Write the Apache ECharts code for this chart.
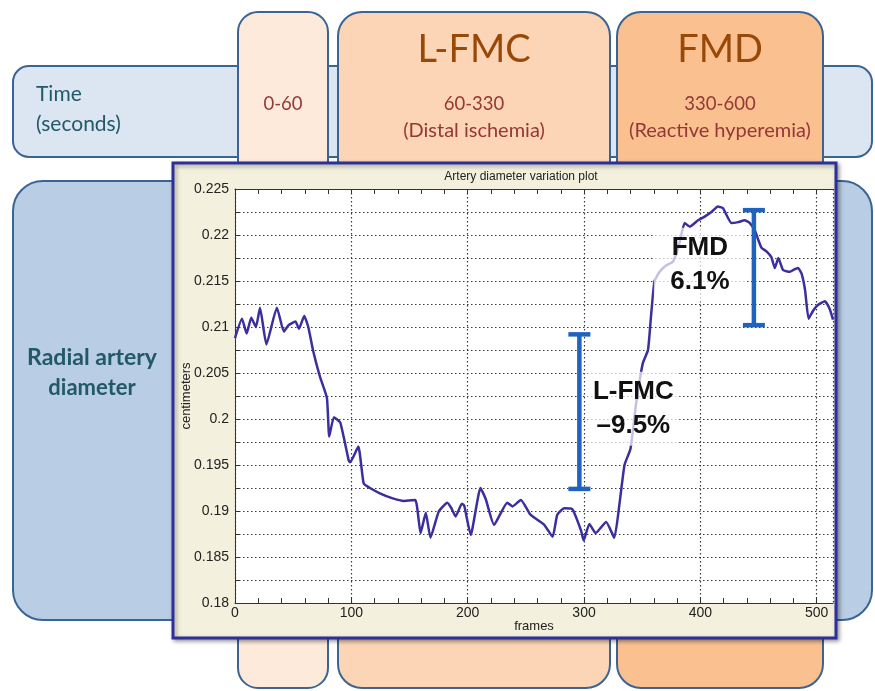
<!DOCTYPE html>
<html><head><meta charset="utf-8">
<script src="https://cdn.jsdelivr.net/npm/echarts/dist/echarts.min.js"></script>
<style>html,body{margin:0;padding:0;background:#fff}#c{width:875px;height:691px}</style>
</head><body><div id="c"></div>
<script>
// ---- data ----
const frames = [0, 6, 10, 14, 18, 21.5, 27, 36, 42, 46, 52, 55, 59.5, 63, 67, 73, 79, 81, 85, 90.5, 97.7, 99, 106, 110.6, 116, 125, 135, 145, 155, 159.5, 164, 168, 175, 182.5, 186, 189.6, 195, 197, 202.6, 211, 215.5, 222.7, 234, 238.5, 245.7, 254, 265.8, 273, 277, 283, 290, 297.4, 299.7, 304.6, 310, 319, 326, 330.5, 334.8, 340, 344.8, 350.6, 355, 357.8, 360.6, 365, 370.7, 376.5, 382, 386.5, 391, 398, 403.7, 409.5, 415, 419.5, 426.7, 432.5, 438, 442.5, 446.8, 449.7, 452.6, 457, 461, 464, 467, 471, 477, 480, 484, 487, 490, 493, 497, 501, 507, 511, 514];
const diameter = [0.2088, 0.2109, 0.2093, 0.2110, 0.2100, 0.2121, 0.2081, 0.2121, 0.2095, 0.2102, 0.2106, 0.2098, 0.2112, 0.2100, 0.2075, 0.2046, 0.2023, 0.1981, 0.2002, 0.1996, 0.1955, 0.1953, 0.1970, 0.1930, 0.1925, 0.1919, 0.1914, 0.1911, 0.1912, 0.1876, 0.1898, 0.1871, 0.1899, 0.1909, 0.1903, 0.1894, 0.1908, 0.1906, 0.1874, 0.1925, 0.1913, 0.1885, 0.1909, 0.1905, 0.1912, 0.1896, 0.1885, 0.1872, 0.1896, 0.1903, 0.1902, 0.1879, 0.1868, 0.1886, 0.1876, 0.1888, 0.1871, 0.1908, 0.1950, 0.1968, 0.2017, 0.2061, 0.2075, 0.2115, 0.2150, 0.2160, 0.2167, 0.2171, 0.2191, 0.2213, 0.2209, 0.2216, 0.2220, 0.2225, 0.2231, 0.2229, 0.2213, 0.2214, 0.2216, 0.2213, 0.2205, 0.2195, 0.2186, 0.2182, 0.2176, 0.2164, 0.2175, 0.2162, 0.2160, 0.2162, 0.2164, 0.2158, 0.2140, 0.2109, 0.2118, 0.2124, 0.2128, 0.2120, 0.2108];
const xMinorTicks = [0, 20, 40, 60, 80, 100, 120, 140, 160, 180, 200, 220, 240, 260, 280, 300, 320, 340, 360, 380, 400, 420, 440, 460, 480, 500];
const xLabelTicks = [0, 100, 200, 300, 400, 500];
const barFrames = [296, 446];
const barLow = [0.1924, 0.2102];
const barHigh = [0.2092, 0.2227];
const barNames = ['L-FMC', 'FMD'];
const barPercents = ['\u20139.5%', '6.1%'];
const phaseNames = ['', 'L-FMC', 'FMD'];
const phaseTimes = ['0-60', '60-330', '330-600'];
const phaseNotes = ['', '(Distal ischemia)', '(Reactive hyperemia)'];

// ---- layout ----
const chart = echarts.init(document.getElementById('c'));
const border = '#3b6494';
const officeFont = 'Lato, "Open Sans", sans-serif';
const mlFont = '"Liberation Sans", Arial, sans-serif';
const colCenters = [283, 474, 720];
const colBoxes = [[238, 90, 20, '#fdeada'], [338, 272, 24, '#fbd5b5'], [617, 206, 24, '#fac090']];

const graphics = [
  {type: 'rect', z: 1, shape: {x: 13, y: 66, width: 859, height: 91, r: 16}, style: {fill: '#dce6f2', stroke: border, lineWidth: 2}},
  {type: 'rect', z: 1, shape: {x: 13, y: 181, width: 859, height: 439, r: 30}, style: {fill: '#b9cde5', stroke: border, lineWidth: 2}}
];
colBoxes.forEach(c => graphics.push({type: 'rect', z: 2, shape: {x: c[0], y: 12, width: c[1], height: 676, r: c[2]}, style: {fill: c[3], stroke: border, lineWidth: 2}}));
graphics.push({type: 'rect', z: 3, shape: {x: 173, y: 163, width: 663, height: 475}, style: {fill: '#f3f1dd', stroke: '#2d2f9a', lineWidth: 3, shadowBlur: 4, shadowColor: 'rgba(0,0,0,0.35)', shadowOffsetX: 2, shadowOffsetY: 2}});
graphics.push({type: 'text', z: 3, x: 36, y: 94, style: {text: 'Time', font: '21px ' + officeFont, fill: '#215968', verticalAlign: 'middle'}});
graphics.push({type: 'text', z: 3, x: 36, y: 124, style: {text: '(seconds)', font: '21px ' + officeFont, fill: '#215968', verticalAlign: 'middle'}});
graphics.push({type: 'text', z: 3, x: 92, y: 358, style: {text: 'Radial artery', font: 'bold 23px ' + officeFont, fill: '#215968', align: 'center', verticalAlign: 'middle'}});
graphics.push({type: 'text', z: 3, x: 92, y: 388, style: {text: 'diameter', font: 'bold 22px ' + officeFont, fill: '#215968', align: 'center', verticalAlign: 'middle'}});
phaseNames.forEach((n, i) => {
  if (n) graphics.push({type: 'text', z: 3, x: colCenters[i], y: 50, style: {text: n, font: '38px ' + officeFont, fill: '#984807', align: 'center', verticalAlign: 'middle'}});
  graphics.push({type: 'text', z: 3, x: colCenters[i], y: 104, style: {text: phaseTimes[i], font: '18.5px ' + officeFont, fill: '#953735', align: 'center', verticalAlign: 'middle'}});
  if (phaseNotes[i]) graphics.push({type: 'text', z: 3, x: colCenters[i], y: 131, style: {text: phaseNotes[i], font: '20px ' + officeFont, fill: '#953735', align: 'center', verticalAlign: 'middle'}});
});
graphics.push({type: 'text', z: 4, x: 521, y: 177, style: {text: 'Artery diameter variation plot', font: '12px ' + mlFont, fill: '#222', align: 'center', verticalAlign: 'middle'}});

const axisColor = '#333';
const baseX = {type: 'value', min: 0, max: 514, interval: 100, z: 5};
const dotted = {color: '#3a3a3a', width: 1.2, type: [1.5, 2.5]};

chart.setOption({
  animation: false,
  graphic: graphics,
  grid: {left: 235, top: 189, width: 598, height: 414, show: true, backgroundColor: '#ffffff', borderWidth: 0, z: 4},
  xAxis: [
    Object.assign({}, baseX, {
      position: 'bottom',
      axisLine: {show: true, onZero: false, lineStyle: {color: axisColor}},
      axisTick: {show: false},
      axisLabel: {fontSize: 14, color: '#222', margin: 3, fontFamily: mlFont, customValues: xLabelTicks},
      splitLine: {show: true, lineStyle: dotted},
      name: 'frames', nameLocation: 'middle', nameGap: 17, nameMoveOverlap: false,
      nameTextStyle: {fontSize: 13, color: '#222', fontFamily: mlFont}
    }),
    Object.assign({}, baseX, {
      position: 'bottom',
      axisLine: {show: false},
      axisTick: {show: true, inside: true, length: 5, customValues: xMinorTicks, lineStyle: {color: axisColor}},
      axisLabel: {show: false},
      splitLine: {show: false}
    }),
    Object.assign({}, baseX, {
      position: 'top',
      axisLine: {show: true, onZero: false, lineStyle: {color: axisColor}},
      axisTick: {show: true, inside: true, length: 5, customValues: xMinorTicks, lineStyle: {color: axisColor}},
      axisLabel: {show: false},
      splitLine: {show: false}
    })
  ],
  yAxis: [{
    type: 'value', min: 0.18, max: 0.225, interval: 0.005, z: 5,
    axisLine: {show: true, onZero: false, lineStyle: {color: axisColor}},
    axisTick: {show: true, inside: true, length: 5, lineStyle: {color: axisColor}},
    minorTick: {show: true, splitNumber: 2, length: 5, lineStyle: {color: axisColor}},
    axisLabel: {fontSize: 14, color: '#222', margin: 6, fontFamily: mlFont,
      formatter: v => String(Number(v.toFixed(4)))},
    splitLine: {show: true, lineStyle: dotted},
    minorSplitLine: {show: true, lineStyle: dotted},
    name: 'centimeters', nameLocation: 'middle', nameGap: 42, nameRotate: 90, nameMoveOverlap: false,
    nameTextStyle: {fontSize: 13, color: '#222', fontFamily: mlFont}
  }],
  series: [{
    type: 'line', xAxisIndex: 0, yAxisIndex: 0, z: 6,
    data: frames.map((f, i) => [f, diameter[i]]),
    showSymbol: false, smooth: 0.15,
    lineStyle: {color: '#3b2f9f', width: 2.5}
  }, {
    type: 'custom', xAxisIndex: 0, yAxisIndex: 0, z: 7,
    data: barFrames.map((f, i) => [f, barLow[i], barHigh[i]]),
    renderItem: (params, api) => {
      const i = params.dataIndex;
      const pt = api.coord([api.value(0), api.value(2)]);
      const pb = api.coord([api.value(0), api.value(1)]);
      const cap = 11, color = '#1f63c0', lw = 4.5;
      const side = i === 0 ? 1 : -1;
      const midY = (pt[1] + pb[1]) / 2;
      const tx = pt[0] + side * 54;
      const st = {stroke: color, lineWidth: lw};
      const txt = (t, y) => ({type: 'text', x: tx, y: y, style: {text: t, font: 'bold 26px ' + mlFont, fill: '#111', align: 'center', verticalAlign: 'middle'}});
      return {type: 'group', children: [
        {type: 'rect', shape: {x: tx - 46, y: midY - 40, width: 92, height: 74}, style: {fill: 'rgba(255,255,255,0.7)'}},
        {type: 'line', shape: {x1: pt[0], y1: pt[1], x2: pb[0], y2: pb[1]}, style: st},
        {type: 'line', shape: {x1: pt[0] - cap, y1: pt[1], x2: pt[0] + cap, y2: pt[1]}, style: st},
        {type: 'line', shape: {x1: pb[0] - cap, y1: pb[1], x2: pb[0] + cap, y2: pb[1]}, style: st},
        txt(barNames[i], midY - 20),
        txt(barPercents[i], midY + 14)
      ]};
    }
  }]
});
</script></body></html>
